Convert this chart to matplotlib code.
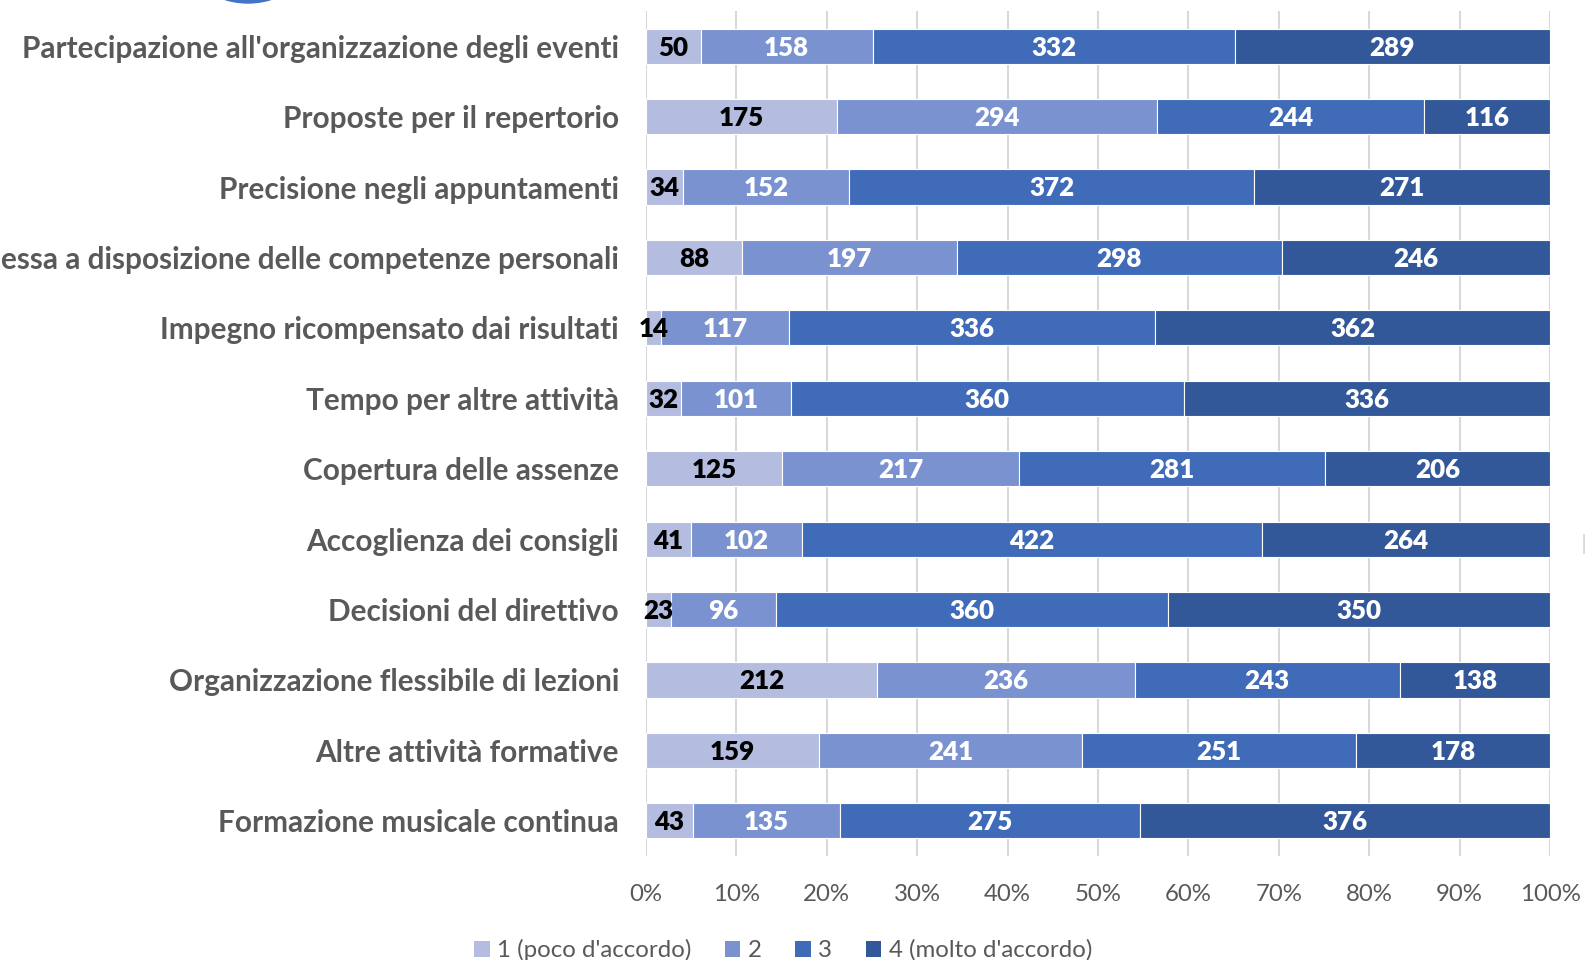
import matplotlib
matplotlib.use("Agg")
import matplotlib.pyplot as plt
import numpy as np
from matplotlib.patches import Circle, Patch

categories = [
    "Partecipazione all'organizzazione degli eventi",
    "Proposte per il repertorio",
    "Precisione negli appuntamenti",
    "Messa a disposizione delle competenze personali",
    "Impegno ricompensato dai risultati",
    "Tempo per altre attività",
    "Copertura delle assenze",
    "Accoglienza dei consigli",
    "Decisioni del direttivo",
    "Organizzazione flessibile di lezioni",
    "Altre attività formative",
    "Formazione musicale continua",
]
series_names = ["1 (poco d'accordo)", "2", "3", "4 (molto d'accordo)"]
s1 = [50, 175, 34, 88, 14, 32, 125, 41, 23, 212, 159, 43]
s2 = [158, 294, 152, 197, 117, 101, 217, 102, 96, 236, 241, 135]
s3 = [332, 244, 372, 298, 336, 360, 281, 422, 360, 243, 251, 275]
s4 = [289, 116, 271, 246, 362, 336, 206, 264, 350, 138, 178, 376]
tick_labels = ["0%", "10%", "20%", "30%", "40%", "50%", "60%", "70%", "80%", "90%", "100%"]

colors = ["#b4bde0", "#7a93d0", "#3f6bb9", "#32589a"]
label_colors = ["black", "white", "white", "white"]

W, H = 1585, 960
fig = plt.figure(figsize=(W / 100, H / 100), dpi=100)
FONT = "Lato"

# background decorations in pixel coordinates
bg = fig.add_axes([0, 0, 1, 1], zorder=0)
bg.set_xlim(0, W)
bg.set_ylim(H, 0)
bg.axis("off")
bg.add_patch(Circle((248, -75.5), 78.5, color="#4472c4", clip_on=True))
bg.plot([1584, 1584], [535, 552], color="#d9d9d9", lw=2)

left, right, top, bottom = 646, 1550, 11, 856
ax = fig.add_axes([left / W, 1 - bottom / H, (right - left) / W, (bottom - top) / H], zorder=1)
ax.patch.set_alpha(0)

data = np.array([s1, s2, s3, s4], dtype=float)
totals = data.sum(axis=0)
pct = data / totals * 100
y = np.arange(len(categories))
lefts = np.zeros(len(categories))
for i in range(4):
    ax.barh(y, pct[i], left=lefts, height=0.5, color=colors[i], edgecolor="white",
            linewidth=0.8, zorder=2)
    for j in range(len(categories)):
        ax.text(lefts[j] + pct[i][j] / 2, y[j] + 0.02, f"{int(data[i][j])}", ha="center",
                va="center", color=label_colors[i], fontsize=18.7, fontweight="heavy",
                family=FONT, zorder=3)
    lefts += pct[i]

ax.set_xlim(0, 100)
ax.set_ylim(len(categories) - 0.5, -0.5)
ax.set_xticks(np.arange(0, 101, 10))
ax.set_xticklabels(tick_labels, family=FONT, fontsize=17.3, color="#595959")
ax.set_yticks(y)
ax.set_yticklabels(categories, family=FONT, fontsize=21.4, fontweight="bold", color="#595959")
ax.tick_params(axis="both", length=0)
ax.tick_params(axis="y", pad=19.5)
ax.tick_params(axis="x", pad=20)
ax.grid(axis="x", color="#d9d9d9", linewidth=1.5, zorder=0)
ax.set_axisbelow(True)
for s in ax.spines.values():
    s.set_visible(False)

handles = [Patch(facecolor=c, edgecolor="none") for c in colors]
leg = fig.legend(handles, series_names, loc="center", bbox_to_anchor=(783 / W, 1 - 950 / H),
                 ncol=4, frameon=False, prop={"family": FONT, "size": 17.3},
                 handlelength=0.65, handleheight=0.65, handletextpad=0.3, columnspacing=1.4)
for t in leg.get_texts():
    t.set_color("#595959")

fig.savefig("out.png", dpi=100)
